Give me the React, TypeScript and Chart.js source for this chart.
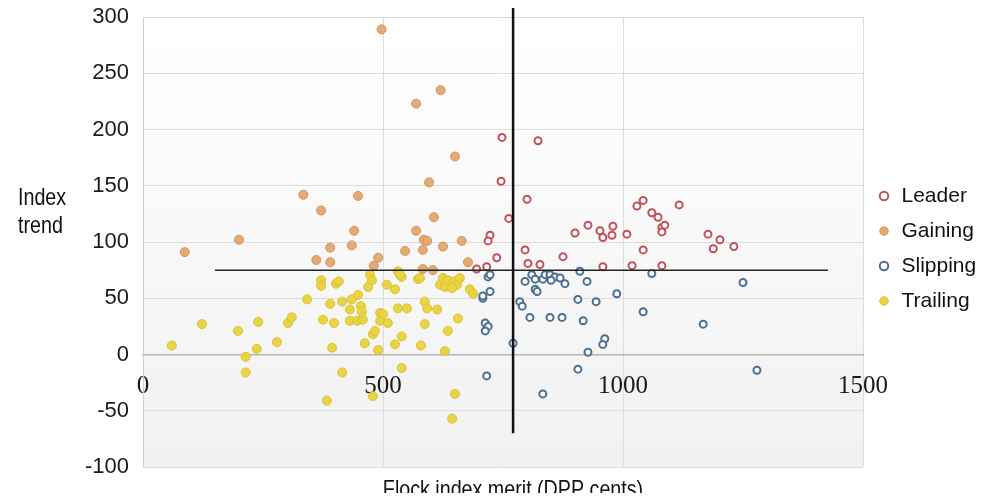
import React, { useEffect, useRef } from "react";
import { Chart, registerables } from "chart.js";

Chart.register(...registerables);

// ---- data ----
const seriesNames = ["Leader", "Gaining", "Slipping", "Trailing"];

const leaderPoints: [number, number][] = [
  [748, 193], [823, 190], [746, 154], [800, 138], [762, 121], [723, 106], [719, 101],
  [737, 86], [716, 78], [695, 76], [796, 93], [802, 81], [827, 80], [875, 87],
  [900, 108], [927, 115], [952, 110], [958, 104], [979, 114], [977, 106], [1008, 107],
  [958, 78], [1019, 79], [1029, 132], [1042, 137], [1060, 126], [1073, 122], [1081, 113],
  [1087, 115], [1081, 109], [1117, 133], [1042, 93], [1081, 79], [1177, 107], [1202, 102],
  [1188, 94], [1231, 96],
];

const gainingPoints: [number, number][] = [
  [497, 289], [569, 223], [620, 235], [650, 176], [596, 153], [334, 142], [448, 141],
  [371, 128], [606, 122], [440, 110], [435, 97], [390, 95], [200, 102], [87, 91],
  [569, 110], [585, 102], [625, 96], [664, 101], [361, 84], [390, 82], [490, 86],
  [481, 79], [546, 92], [583, 93], [583, 76], [604, 75], [677, 82], [592, 101],
];

const slippingPoints: [number, number][] = [
  [719, 69], [723, 71], [723, 56], [708, 50], [708, 52], [713, 28], [719, 25], [713, 21],
  [771, 10], [716, -19], [833, -35], [796, 65], [810, 71], [817, 67], [833, 67], [838, 71],
  [848, 71], [858, 69], [869, 68], [879, 63], [850, 66], [817, 58], [821, 56], [785, 47],
  [790, 43], [806, 33], [848, 33], [873, 33], [917, 30], [906, 49], [944, 47], [910, 74],
  [925, 65], [987, 54], [1042, 38], [1060, 72], [1167, 27], [1250, 64], [962, 14], [958, 9],
  [927, 2], [906, -13], [1279, -14],
];

const trailingPoints: [number, number][] = [
  [60, 8], [123, 27], [198, 21], [240, 29], [214, -2], [214, -16], [237, 5], [279, 11],
  [302, 28], [310, 33], [342, 49], [371, 66], [371, 61], [375, 31], [394, 6], [398, 28],
  [390, 45], [402, 63], [408, 65], [415, 47], [415, -16], [383, -41], [435, 49], [448, 53],
  [454, 43], [431, 30], [446, 30], [458, 31], [469, 60], [473, 71], [477, 66], [494, 37],
  [494, 30], [479, 18], [462, 10], [490, 4], [483, 21], [479, -37], [508, 62], [525, 58],
  [531, 74], [539, 69], [531, 41], [550, 41], [510, 28], [525, 9], [539, 16], [539, -12],
  [535, 71], [573, 67], [577, 68], [587, 47], [592, 41], [587, 27], [579, 8], [613, 40],
  [619, 62], [625, 68], [629, 60], [635, 66], [648, 65], [654, 62], [660, 68], [644, 59],
  [656, 32], [635, 21], [629, 3], [650, -35], [644, -57], [681, 58], [688, 54], [500, 36],
  [431, 40], [456, 38],
];

const xRange = [0, 1500];
const xStep = 500;
const yRange = [-100, 300];
const yStep = 50;

const meritThreshold = 771;
const meritLineSpan = [-70, 308];
const trendThreshold = 75;
const trendLineSpan = [150, 1427];

const xTitle = "Flock index merit (DPP cents)";
const yTitleLines = ["Index", "trend"];

const SANS = '"Liberation Sans", Arial, sans-serif';

const toXY = (pts: [number, number][]) => pts.map(([x, y]) => ({ x, y }));

// draws real text, horizontally condensed to mimic the narrow original typeface
function drawNarrowText(ctx: CanvasRenderingContext2D, text: string, x: number, y: number, align: "left" | "center") {
  const squeeze = 0.82;
  ctx.save();
  ctx.translate(x, y);
  ctx.scale(squeeze, 1);
  ctx.textAlign = align;
  ctx.fillText(text, 0, 0);
  ctx.restore();
}

export default function App() {
  const ref = useRef<HTMLCanvasElement | null>(null);

  useEffect(() => {
    if (!ref.current) return;

    const bgPlugin = {
      id: "bgGrad",
      beforeDraw(chart: any) {
        const { ctx, chartArea: a } = chart;
        if (!a) return;
        const g = ctx.createLinearGradient(0, a.top, 0, a.bottom);
        g.addColorStop(0, "#ffffff");
        g.addColorStop(1, "#f1f1f1");
        ctx.save();
        ctx.fillStyle = g;
        ctx.fillRect(a.left, a.top, a.right - a.left, a.bottom - a.top);
        ctx.restore();
      },
    };

    const titlesPlugin = {
      id: "axisTitles",
      afterDraw(chart: any) {
        const ctx = chart.ctx;
        ctx.save();
        ctx.font = `24px ${SANS}`;
        ctx.fillStyle = "#111";
        ctx.textBaseline = "alphabetic";
        yTitleLines.forEach((t, i) => drawNarrowText(ctx, t, 10, 197 + i * 28, "left"));
        drawNarrowText(ctx, xTitle, 505, 489, "center");
        ctx.restore();
      },
    };

    const chart = new Chart(ref.current, {
      type: "scatter",
      data: {
        datasets: [
          {
            type: "line",
            label: "",
            data: meritLineSpan.map((y) => ({ x: meritThreshold, y })),
            borderColor: "#111",
            borderWidth: 2.5,
            pointRadius: 0,
            showLine: true,
            clip: false,
          } as any,
          {
            type: "line",
            label: "",
            data: trendLineSpan.map((x) => ({ x, y: trendThreshold })),
            borderColor: "#222",
            borderWidth: 1.5,
            pointRadius: 0,
            showLine: true,
            clip: false,
          } as any,
          {
            label: seriesNames[0],
            data: toXY(leaderPoints),
            pointStyle: "circle",
            pointRadius: 3.5,
            borderWidth: 2,
            borderColor: "#c4505a",
            backgroundColor: "#ffffff",
          },
          {
            label: seriesNames[1],
            data: toXY(gainingPoints),
            pointStyle: "circle",
            pointRadius: 4.5,
            borderWidth: 1,
            borderColor: "#d2935e",
            backgroundColor: "#e6aa74",
          },
          {
            label: seriesNames[2],
            data: toXY(slippingPoints),
            pointStyle: "circle",
            pointRadius: 3.5,
            borderWidth: 2,
            borderColor: "#4a6f92",
            backgroundColor: "#ffffff",
          },
          {
            label: seriesNames[3],
            data: toXY(trailingPoints),
            pointStyle: "circle",
            pointRadius: 4.5,
            borderWidth: 1,
            borderColor: "#d9c236",
            backgroundColor: "#ead443",
          },
        ],
      },
      options: {
        animation: false,
        responsive: false,
        devicePixelRatio: 1,
        layout: { padding: { top: 0, left: 0, right: 0, bottom: 34 } },
        plugins: {
          tooltip: { enabled: false },
          legend: {
            position: "right",
            fullSize: false,
            maxWidth: 115,
            title: { display: true, text: "", font: { size: 13, lineHeight: 1 }, padding: 0 },
            labels: {
              usePointStyle: true,
              pointStyle: "circle",
              boxWidth: 14,
              boxHeight: 6,
              padding: 14,
              color: "#111",
              font: { family: SANS, size: 21 },
              filter: (item: any) => item.text !== "",
            },
          },
        },
        scales: {
          x: {
            type: "linear",
            position: { y: 0 } as any,
            min: xRange[0],
            max: xRange[1],
            ticks: {
              stepSize: xStep,
              padding: 17,
              color: "#1a1a1a",
              font: { family: '"Liberation Serif", serif', size: 25 },
              callback: (v: any) => String(v),
            },
            grid: { color: "#dcdcdc", drawTicks: false },
            border: { display: true, color: "#b5b5b5", width: 1.5 },
            afterFit: (s: any) => {
              s.paddingLeft = 0;
              s.paddingRight = 0;
            },
          } as any,
          y: {
            type: "linear",
            min: yRange[0],
            max: yRange[1],
            ticks: {
              stepSize: yStep,
              padding: 14,
              color: "#1a1a1a",
              font: { family: SANS, size: 22 },
              callback: (v: any) => String(v),
            },
            grid: { color: "#dcdcdc", drawTicks: false },
            border: { display: true, color: "#cfcfcf" },
            afterFit: (s: any) => {
              s.width = 135;
              s.paddingTop = 9;
              s.paddingBottom = 0;
            },
          } as any,
        },
      },
      plugins: [bgPlugin, titlesPlugin],
    });

    return () => chart.destroy();
  }, []);

  return (
    <div style={{ height: 493, marginBottom: -8 }}>
      <canvas ref={ref} width={970} height={493} style={{ display: "block" }} />
    </div>
  );
}
